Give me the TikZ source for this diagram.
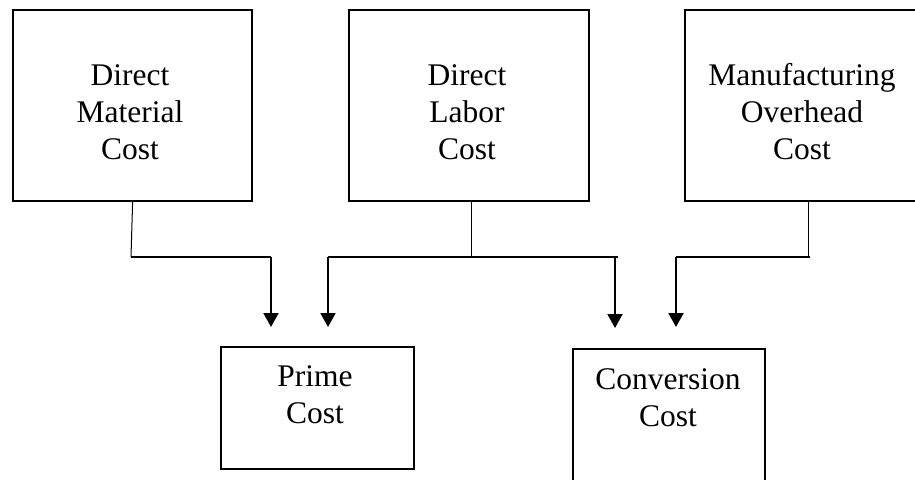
\documentclass[tikz,border=0pt]{standalone}
\usepackage{fontspec}
\setmainfont{Liberation Serif}
\usetikzlibrary{arrows.meta}

\begin{document}
\begin{tikzpicture}[x=1pt,y=-1pt,
  box/.style={draw, line width=2.2pt, inner sep=0pt, anchor=north west},
  lbl/.style={align=center, font=\fontsize{31.5}{37}\selectfont, inner sep=0pt, anchor=base},
  feed/.style={line width=1.0pt},
  bus/.style={line width=1.6pt},
  drop/.style={line width=2pt, -{Triangle[length=14pt,width=15pt]}}]
\useasboundingbox (0,0) rectangle (915,479);
\clip (0,0) rectangle (915,479);

% cost components (label anchor = baseline of the last line)
\node[box, minimum width=239pt, minimum height=191pt] (dm) at (12,9) {};
\node[box, minimum width=240pt, minimum height=191pt] (dl) at (348,9) {};
\node[box, minimum width=240pt, minimum height=191pt] (mo) at (684,9) {};
\node[lbl] (dmt) at (130,159) {Direct\\Material\\Cost};
\node[lbl] (dlt) at (467,159) {Direct\\Labor\\Cost};
\node[lbl] (mot) at (802,159) {Manufacturing\\Overhead\\Cost};

% cost totals
\node[box, minimum width=193pt, minimum height=122pt] (pc) at (220,346) {};
\node[box, minimum width=192pt, minimum height=160pt] (cc) at (572,348) {};
\node[lbl] (pct) at (315,423) {Prime\\Cost};
\node[lbl] (cct) at (668,426) {Conversion\\Cost};

% junction and arrow-end points
\coordinate (jm) at (131,257);
\coordinate (jmr) at (271,257);
\coordinate (jl) at (471,257);
\coordinate (jll) at (328,257);
\coordinate (jlr) at (615,257);
\coordinate (jo) at (808,257);
\coordinate (jol) at (676,257);
\coordinate (pa) at (271,327);
\coordinate (pb) at (328,327);
\coordinate (ca) at (615,328);
\coordinate (cb) at (676,327);

% direct material -> prime cost
\draw[feed] (dm.south) -- (jm);
\draw[bus] (jm) -- (jmr);
\draw[drop] (jmr) -- (pa);

% direct labor -> prime cost and conversion cost
\draw[feed] (dl.south -| jl) -- (jl);
\draw[bus] (jll) -- (618,257);
\draw[drop] (jll) -- (pb);
\draw[drop] (jlr) -- (ca);

% overhead -> conversion cost
\draw[feed] (mo.south -| jo) -- (jo);
\draw[bus] (810,257) -- (jol);
\draw[drop] (jol) -- (cb);
\end{tikzpicture}
\end{document}
